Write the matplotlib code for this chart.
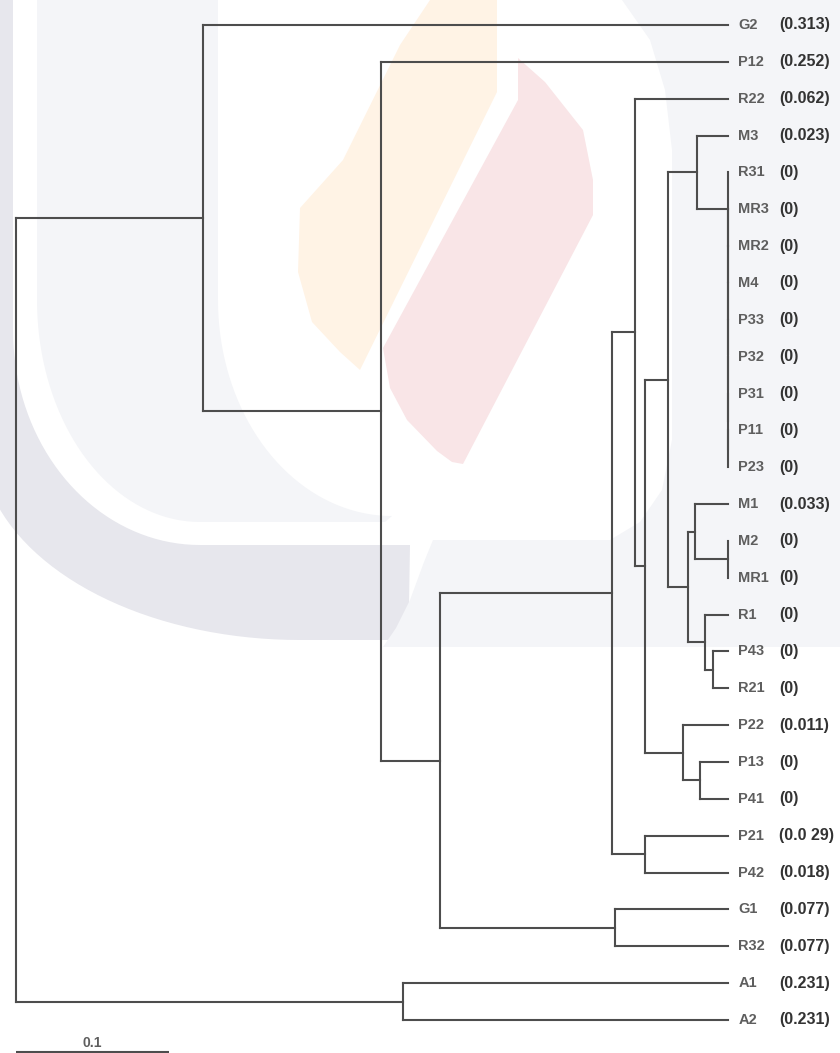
import numpy as np
import matplotlib
matplotlib.use("Agg")
import matplotlib.pyplot as plt
from matplotlib.collections import LineCollection
from matplotlib.patches import Polygon

# ---------------- data ----------------
leaves = ["G2", "P12", "R22", "M3", "R31", "MR3", "MR2", "M4", "P33", "P32",
          "P31", "P11", "P23", "M1", "M2", "MR1", "R1", "P43", "R21", "P22",
          "P13", "P41", "P21", "P42", "G1", "R32", "A1", "A2"]
leaf_values = ["(0.313)", "(0.252)", "(0.062)", "(0.023)", "(0)", "(0)", "(0)",
               "(0)", "(0)", "(0)", "(0)", "(0)", "(0)", "(0.033)", "(0)", "(0)",
               "(0)", "(0)", "(0)", "(0.011)", "(0)", "(0)", "(0.0 29)",
               "(0.018)", "(0.077)", "(0.077)", "(0.231)", "(0.231)"]
tip_depth = 0.4654   # distance root -> tips (all tips aligned)

# internal nodes: name, first child, second child, distance from root
node_names = ["h1", "h2", "h3", "h4", "h5", "h6", "h7", "H", "F", "K", "I",
              "L", "J", "G", "D", "N13", "E", "C", "B", "PP", "A", "GR",
              "N440", "N381", "U", "AA", "root"]
node_first = ["P11", "P31", "P32", "P33", "M4", "MR2", "MR3", "R31", "M3", "M2",
              "M1", "P43", "R1", "I", "F", "P13", "P22", "D", "R22", "P21", "B",
              "G1", "A", "P12", "G2", "A1", "U"]
node_second = ["P23", "h1", "h2", "h3", "h4", "h5", "h6", "h7", "H", "MR1",
               "K", "R21", "L", "J", "G", "P41", "N13", "E", "C", "P42", "PP",
               "R32", "GR", "N440", "N381", "A2", "AA"]
node_depth = [0.4654, 0.4654, 0.4654, 0.4654, 0.4654, 0.4654, 0.4654, 0.4654,
              0.4451, 0.4654, 0.4438, 0.4556, 0.4503, 0.4392, 0.4261, 0.4471,
              0.4359, 0.4111, 0.4046, 0.4111, 0.3895, 0.3915, 0.2771, 0.2386,
              0.1222, 0.2529, 0.0]
scale_bar = 0.1

# ---------------- figure ----------------
W, H_ = 840, 1053
fig = plt.figure(figsize=(W / 100, H_ / 100), dpi=100)
fig.patch.set_facecolor("white")

# background watermark (pixel coordinates)
bg = fig.add_axes([0, 0, 1, 1], zorder=0)
bg.set_xlim(0, W)
bg.set_ylim(H_, 0)
bg.axis("off")


def corner(xa, ya, xb, yb, n=40):
    t = np.linspace(0, np.pi / 2, n)
    return np.column_stack([xb - (xb - xa) * np.cos(t), ya + (yb - ya) * np.sin(t)])


light = "#f4f5f8"
dark = "#e7e7ed"

# dark outer ring
outer = corner(-20, 440, 300, 640)
inner = corner(13, 330, 200, 545)[::-1]
dark_pts = np.vstack([[[-20, 0]], outer,
                      [[395, 640], [404, 628], [409, 605], [410, 545]],
                      inner, [[13, 0]]])
bg.add_patch(Polygon(dark_pts, closed=True, fc=dark, ec="none"))

# light crescent
lo = corner(37, 300, 200, 522)
li = corner(218, 300, 392, 516)[::-1]
light_pts = np.vstack([[[37, 0]], lo, [[385, 522]], li, [[218, 0]]])
bg.add_patch(Polygon(light_pts, closed=True, fc=light, ec="none"))

# right light region
right_pts = [(622, 0), (840, 0), (840, 647), (383, 647), (396, 628), (410, 600),
             (424, 562), (433, 540), (610, 540), (640, 522), (662, 490),
             (672, 440), (672, 150), (665, 90), (650, 40)]
bg.add_patch(Polygon(right_pts, closed=True, fc=light, ec="none"))

# flames
orange_pts = [(430, 0), (497, 0), (497, 92), (360, 370), (340, 352), (312, 322),
              (298, 272), (300, 208), (343, 160), (400, 45)]
bg.add_patch(Polygon(orange_pts, closed=True, fc="#fff3e5", ec="none"))
pink_pts = [(518, 58), (545, 82), (583, 130), (593, 180), (593, 215),
            (463, 464), (452, 462), (437, 451), (407, 420), (390, 388),
            (383, 348), (518, 100)]
bg.add_patch(Polygon(pink_pts, closed=True, fc="#f9e5e7", ec="none"))

# tree axes
ax = fig.add_axes([0, 0, 1, 1], zorder=1)
ax.patch.set_alpha(0)
px_per_unit = 1530.0
x0_px = 16.0
y0_px, dy_px = 25.0, 36.85
ax.set_xlim(-x0_px / px_per_unit, (W - x0_px) / px_per_unit)
ax.set_ylim((H_ - y0_px) / dy_px, -y0_px / dy_px)
ax.axis("off")

pos_x = {name: tip_depth for name in leaves}
pos_y = {name: i for i, name in enumerate(leaves)}
children = {}
for nm, a, b, d in zip(node_names, node_first, node_second, node_depth):
    pos_x[nm] = d
    pos_y[nm] = (pos_y[a] + pos_y[b]) / 2.0
    children[nm] = (a, b)

segs = []
for nm, (a, b) in children.items():
    xp = pos_x[nm]
    segs.append([(xp, pos_y[a]), (xp, pos_y[b])])
    for c in (a, b):
        if pos_x[c] > xp:
            segs.append([(xp, pos_y[c]), (pos_x[c], pos_y[c])])

lc = LineCollection(segs, colors="#4d4d4d", linewidths=1.5, capstyle="projecting")
ax.add_collection(lc)

for i, (nm, val) in enumerate(zip(leaves, leaf_values)):
    ax.annotate(nm, (tip_depth, i), xytext=(7.3, 0), textcoords="offset points",
                ha="left", va="center", fontsize=10.5, color="#5e5e5e",
                family="Liberation Sans", fontweight="bold")
    ax.annotate(val, (tip_depth, i), xytext=(36.8, 0), textcoords="offset points",
                ha="left", va="center", fontsize=11.5, color="#333333",
                family="Liberation Sans", fontweight="bold")

# scale bar
yb = (1052 - y0_px) / dy_px
ax.plot([0, scale_bar], [yb, yb], color="#4d4d4d", lw=1.5, solid_capstyle="butt")
ax.text(scale_bar / 2, (1043 - y0_px) / dy_px, "0.1", ha="center", va="center",
        fontsize=10, color="#5e5e5e", family="Liberation Sans", fontweight="bold")

fig.savefig("out.png", dpi=100, facecolor="white")
